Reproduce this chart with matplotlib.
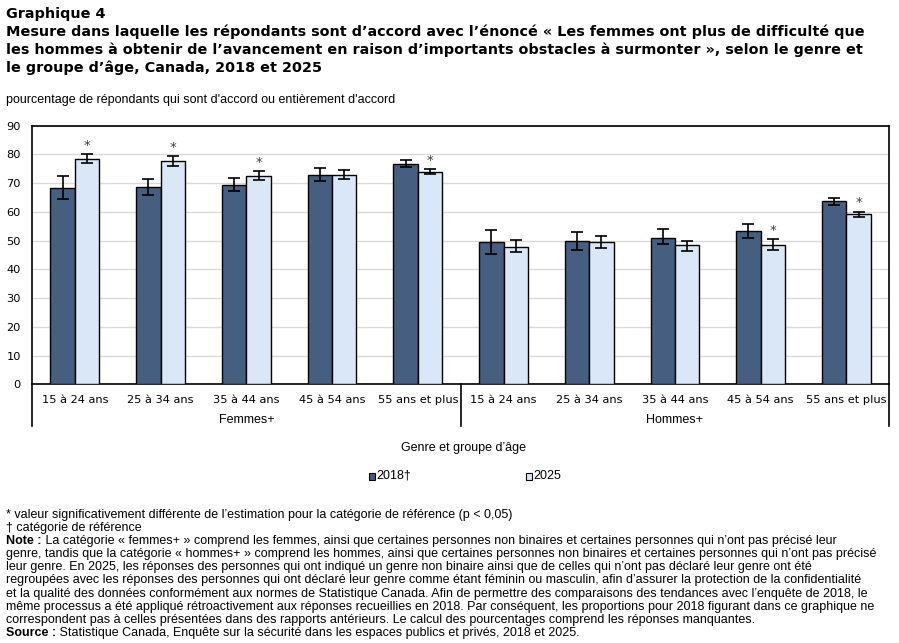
import numpy as np
import matplotlib
matplotlib.use("Agg")
import matplotlib.pyplot as plt
from matplotlib.patches import Rectangle
import matplotlib.transforms as mtransforms

# data
ages = ["15 à 24 ans", "25 à 34 ans", "35 à 44 ans", "45 à 54 ans", "55 ans et plus"]
groups = ["Femmes+", "Hommes+"]
v2018 = [68.2, 68.6, 69.3, 72.7, 76.6, 49.4, 49.8, 51.0, 53.2, 63.7]
lo2018 = [64.4, 65.8, 67.2, 70.7, 75.5, 45.2, 46.6, 48.7, 50.8, 62.3]
hi2018 = [72.4, 71.4, 71.7, 75.2, 78.0, 53.6, 52.9, 53.9, 55.7, 64.7]
v2025 = [78.3, 77.6, 72.4, 72.7, 74.0, 47.9, 49.4, 48.4, 48.4, 59.2]
lo2025 = [76.9, 75.9, 71.0, 71.4, 73.1, 45.9, 47.3, 46.3, 46.6, 58.1]
hi2025 = [80.0, 79.4, 74.1, 74.5, 74.8, 50.1, 51.5, 50.0, 50.5, 60.1]
sig2025 = [True, True, True, False, True, False, False, False, True, True]
yticks = list(range(0, 100, 10))

dark = "#465e80"
light = "#dae7f6"
W, H = 899, 643
small = 9.0

fig = plt.figure(figsize=(W / 100, H / 100), dpi=100)

def px(x, y):
    return x / W, 1 - y / H

ax = fig.add_axes([32 / W, 1 - 384.3 / H, (889.3 - 32) / W, (384.3 - 125.7) / H])

x = np.arange(len(v2018))
bw = 0.285
e18 = [np.array(v2018) - np.array(lo2018), np.array(hi2018) - np.array(v2018)]
e25 = [np.array(v2025) - np.array(lo2025), np.array(hi2025) - np.array(v2025)]
ax.bar(x - bw / 2, v2018, bw, color=dark, edgecolor="black", linewidth=1, zorder=3)
ax.bar(x + bw / 2, v2025, bw, color=light, edgecolor="black", linewidth=1, zorder=3)
ax.errorbar(x - bw / 2, v2018, yerr=e18, fmt="none", ecolor="black", elinewidth=1.2, capsize=4, capthick=1.2, zorder=4)
ax.errorbar(x + bw / 2, v2025, yerr=e25, fmt="none", ecolor="black", elinewidth=1.2, capsize=4, capthick=1.2, zorder=4)
for i, s in enumerate(sig2025):
    if s:
        ax.text(x[i] + bw / 2, hi2025[i] + 0.8, "*", ha="center", va="bottom", fontsize=9.5, color="#3a3a4a")

ax.set_xlim(-0.5, len(x) - 0.5)
ax.set_ylim(0, 90)
ax.set_yticks(yticks)
ax.tick_params(axis="y", length=0, labelsize=8.2, pad=8)
ax.set_xticks(x)
ax.set_xticklabels(ages * 2)
ax.tick_params(axis="x", length=0, labelsize=8.2, pad=8)
ax.grid(axis="y", color="#d9d9d9", linewidth=1, zorder=0)
for sp in ax.spines.values():
    sp.set_color("black")
    sp.set_linewidth(1.2)

# group separators below the axis
trans = mtransforms.blended_transform_factory(ax.transData, ax.transAxes)
drop = -(426 - 384.3) / (384.3 - 125.7)
for xs in [-0.5, 4.5, 9.5]:
    ax.plot([xs, xs], [0, drop], transform=trans, color="black", linewidth=1.2, clip_on=False)
for gi, g in enumerate(groups):
    ax.text(2 + 5 * gi, -(420 - 384.3) / (384.3 - 125.7), g, transform=trans, ha="center", va="center",
            fontsize=small, family="Liberation Sans")

# titles
fig.text(*px(6, 14), "Graphique 4", fontsize=10.4, fontweight="bold", va="center")
title = ["Mesure dans laquelle les répondants sont d’accord avec l’énoncé « Les femmes ont plus de difficulté que",
         "les hommes à obtenir de l’avancement en raison d’importants obstacles à surmonter », selon le genre et",
         "le groupe d’âge, Canada, 2018 et 2025"]
for i, t in enumerate(title):
    fig.text(*px(6, 32 + 18 * i), t, fontsize=10.4, fontweight="bold", va="center")
fig.text(*px(6, 100), "pourcentage de répondants qui sont d'accord ou entièrement d'accord",
         fontsize=small, family="Liberation Sans", va="center")

fig.text(*px(463, 448), "Genre et groupe d’âge", fontsize=small, family="Liberation Sans", ha="center", va="center")

# legend
for lx, lab, c in [(369, "2018†", dark), (526, "2025", light)]:
    fig.patches.append(Rectangle(px(lx, 480), 6 / W, 7 / H, transform=fig.transFigure,
                                 facecolor=c, edgecolor="black", linewidth=0.8))
    fig.text(*px(lx + 7, 476), lab, fontsize=small, family="Liberation Sans", va="center")

# notes
notes = [
    ("", "* valeur significativement différente de l’estimation pour la catégorie de référence (p < 0,05)"),
    ("", "† catégorie de référence"),
    ("Note :", " La catégorie « femmes+ » comprend les femmes, ainsi que certaines personnes non binaires et certaines personnes qui n’ont pas précisé leur"),
    ("", "genre, tandis que la catégorie « hommes+ » comprend les hommes, ainsi que certaines personnes non binaires et certaines personnes qui n’ont pas précisé"),
    ("", "leur genre. En 2025, les réponses des personnes qui ont indiqué un genre non binaire ainsi que de celles qui n’ont pas déclaré leur genre ont été"),
    ("", "regroupées avec les réponses des personnes qui ont déclaré leur genre comme étant féminin ou masculin, afin d’assurer la protection de la confidentialité"),
    ("", "et la qualité des données conformément aux normes de Statistique Canada. Afin de permettre des comparaisons des tendances avec l’enquête de 2018, le"),
    ("", "même processus a été appliqué rétroactivement aux réponses recueillies en 2018. Par conséquent, les proportions pour 2018 figurant dans ce graphique ne"),
    ("", "correspondent pas à celles présentées dans des rapports antérieurs. Le calcul des pourcentages comprend les réponses manquantes."),
    ("Source :", " Statistique Canada, Enquête sur la sécurité dans les espaces publics et privés, 2018 et 2025."),
]
fig.canvas.draw()
r = fig.canvas.get_renderer()
for i, (b, t) in enumerate(notes):
    y = 515 + 13.1 * i
    xx = 6
    if b:
        tb = fig.text(*px(xx, y), b, fontsize=small, family="Liberation Sans", fontweight="bold", va="center")
        xx += tb.get_window_extent(r).width
    fig.text(*px(xx, y), t, fontsize=small, family="Liberation Sans", va="center")

fig.savefig("out.png", dpi=100)
